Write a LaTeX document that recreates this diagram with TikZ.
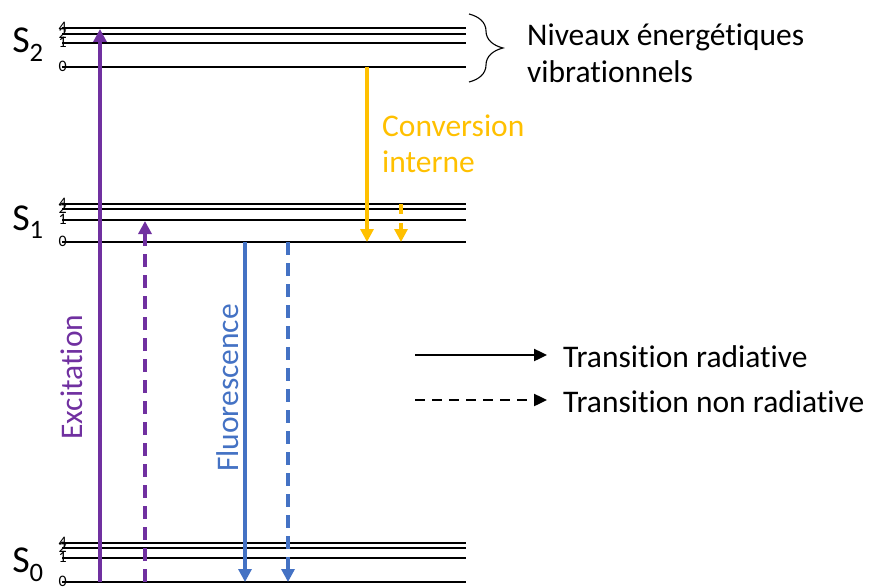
\documentclass[tikz,border=0pt]{standalone}
\usepackage{fontspec}
\setmainfont{Carlito}[Ligatures=NoCommon]
\usetikzlibrary{arrows.meta,decorations.pathreplacing}
\definecolor{exc}{HTML}{7030A0}
\definecolor{flu}{HTML}{4472C4}
\definecolor{conv}{HTML}{FFC000}
\tikzset{
  lvl/.style={line width=1.1pt, black},
  num/.style={font=\fontsize{16}{16}\selectfont, anchor=east, inner sep=0pt},
  slab/.style={font=\fontsize{38}{38}\selectfont, anchor=center, inner sep=0pt},
  txt/.style={font=\fontsize{31.5}{31.5}\selectfont, inner sep=0pt},
  arr/.style={line width=3.2pt, -{Triangle[width=13pt,length=13pt]}},
  dsh/.style={dash pattern=on 13pt off 8pt},
}
\begin{document}
\begin{tikzpicture}[x=1pt,y=-1pt]
\useasboundingbox (0,0) rectangle (869,588);
% levels
\foreach \nm/\yy/\lab in {a4/28/4,a2/34/2,a1/43/1,a0/67/0,
                          b4/204/4,b2/209/2,b1/220/1,b0/242/0,
                          c4/543/4,c2/548/2,c1/558/1,c0/582/0}{
  \draw[lvl] (62,\yy) coordinate (\nm L) -- (466,\yy) coordinate (\nm R);
  \node[num] (\nm n) at (67,\yy-1) {\lab};
}
% state labels
\node[slab] (S2) at (28,45) {S\textsubscript{2}};
\node[slab] (S1) at (28,222) {S\textsubscript{1}};
\node[slab] (S0) at (28,565) {S\textsubscript{0}};
% brace
\draw[line width=1.1pt, decorate, decoration={brace, amplitude=34pt}] (469,14) coordinate (br1) -- (469,82) coordinate (br2);
\node[txt, anchor=west] (niv) at (527,37) {Niveaux énergétiques};
\node[txt, anchor=west] (vib) at (527,72) {vibrationnels};
% endpoints
\coordinate (e1) at (100,582); \coordinate (e2) at (100,29);
\coordinate (d1) at (145,582); \coordinate (d2) at (145,221);
\coordinate (f1) at (245,242); \coordinate (f2) at (245,582);
\coordinate (g1) at (288,242); \coordinate (g2) at (288,582);
\coordinate (h1) at (367,67);  \coordinate (h2) at (367,242);
\coordinate (k1) at (401,204); \coordinate (k2) at (401,242);
% arrows
\draw[arr, exc] (e1) -- (e2);
\draw[arr, exc, dsh] (d1) -- (d2);
\draw[arr, flu] (f1) -- (f2);
\draw[arr, flu, dsh] (g1) -- (g2);
\draw[arr, conv] (h1) -- (h2);
\draw[arr, conv, dash pattern=on 10pt off 9pt] (k1) -- (k2);
% labels
\node[txt, exc, rotate=90] (lexc) at (72,377) {Excitation};
\node[txt, flu, rotate=90] (lflu) at (228,388) {Fluorescence};
\node[txt, conv, anchor=west] (lconv) at (382,126) {Conversion};
\node[txt, conv, anchor=west] (lint) at (382,162) {interne};
% legend
\coordinate (l1) at (415,355); \coordinate (l2) at (547,355);
\coordinate (m1) at (415,400); \coordinate (m2) at (547,400);
\draw[line width=2.4pt, -{Triangle[width=12pt,length=13pt]}] (l1) -- (l2);
\draw[line width=2.4pt, dash pattern=on 10pt off 7pt, -{Triangle[width=12pt,length=13pt]}] (m1) -- (m2);
\node[txt, anchor=west] (t1) at (563,357) {Transition radiative};
\node[txt, anchor=west] (t2) at (563,402) {Transition non radiative};
\end{tikzpicture}
\end{document}
